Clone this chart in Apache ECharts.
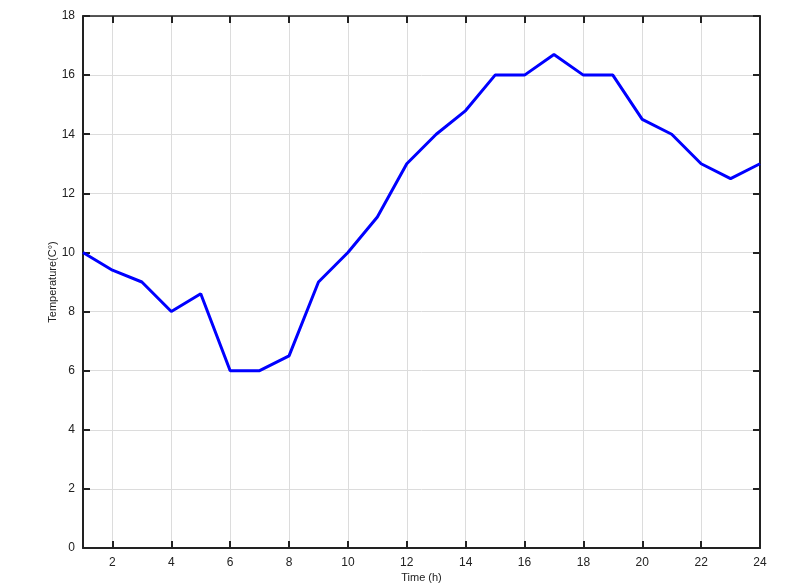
<!DOCTYPE html>
<html><head><meta charset="utf-8">
<script src="https://cdn.jsdelivr.net/npm/echarts@6/dist/echarts.min.js"></script>
<style>html,body{margin:0;padding:0;background:#fff;overflow:hidden}#c{width:806px;height:585px}</style>
</head><body><div id="c"></div>
<script>
const hours = [1,2,3,4,5,6,7,8,9,10,11,12,13,14,15,16,17,18,19,20,21,22,23,24];
const temps = [10,9.4,9,8,8.6,6,6,6.5,9,10,11.2,13,14,14.8,16,16,16.7,16,16,14.5,14,13,12.5,13];
const yMin = 0, yMax = 18, yStep = 2;
const xTitle = 'Time (h)', yTitle = 'Temperature(C°)';

const even = (i, v) => Number(v) % 2 === 0;
const chart = echarts.init(document.getElementById('c'));
const axisCol = '#222';
const font = 'Liberation Sans';
chart.setOption({
  animation: false,
  grid: {left: 83, right: 46, top: 16, bottom: 37, containLabel: false, outerBoundsMode: 'none'},
  xAxis: [{
    type: 'category', data: hours.map(String), boundaryGap: false,
    name: xTitle, nameLocation: 'middle', nameGap: 24, nameMoveOverlap: false,
    nameTextStyle: {fontSize: 11, color: axisCol, fontFamily: font},
    axisLine: {onZero: false, lineStyle: {color: axisCol, width: 2}},
    axisTick: {inside: true, length: 7, interval: even, lineStyle: {color: axisCol, width: 2}},
    axisLabel: {interval: even, fontSize: 12, color: axisCol, margin: 9, fontFamily: font},
    splitLine: {show: true, interval: even, lineStyle: {color: '#dcdcdc', width: 1}}
  }, {
    type: 'category', data: hours.map(String), boundaryGap: false, position: 'top',
    axisLine: {onZero: false, lineStyle: {color: axisCol, width: 1.5}},
    axisTick: {inside: true, length: 7, interval: even, lineStyle: {color: axisCol, width: 2}},
    axisLabel: {show: false}, splitLine: {show: false}
  }],
  yAxis: [{
    type: 'value', min: yMin, max: yMax, interval: yStep,
    name: yTitle, nameLocation: 'middle', nameGap: 25, nameMoveOverlap: false,
    nameTextStyle: {fontSize: 11, color: axisCol, fontFamily: font},
    axisLine: {show: true, onZero: false, lineStyle: {color: axisCol, width: 2}},
    axisTick: {show: true, inside: true, length: 7, lineStyle: {color: axisCol, width: 2}},
    axisLabel: {fontSize: 12, color: axisCol, margin: 8, fontFamily: font},
    splitLine: {show: true, lineStyle: {color: '#dcdcdc', width: 1}}
  }, {
    type: 'value', min: yMin, max: yMax, interval: yStep, position: 'right',
    axisLine: {show: true, onZero: false, lineStyle: {color: axisCol, width: 2}},
    axisTick: {show: true, inside: true, length: 7, lineStyle: {color: axisCol, width: 2}},
    axisLabel: {show: false}, splitLine: {show: false}
  }],
  series: [{
    type: 'line', data: temps, xAxisIndex: 0, yAxisIndex: 0,
    showSymbol: false, symbol: 'none',
    lineStyle: {color: '#0000ff', width: 3}
  }]
});
</script></body></html>
